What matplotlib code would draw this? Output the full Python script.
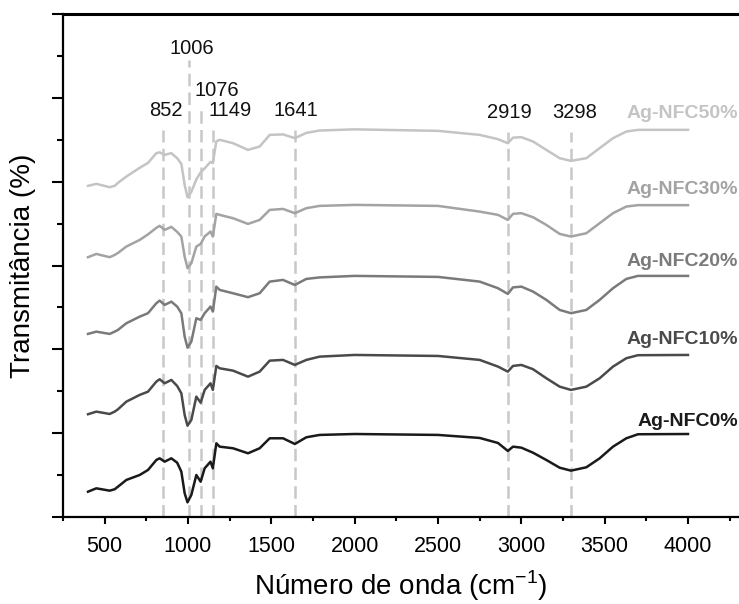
import matplotlib
matplotlib.use("Agg")
import matplotlib.pyplot as plt
from matplotlib.ticker import MultipleLocator, NullFormatter

plt.rcParams['font.family'] = ['Liberation Sans', 'DejaVu Sans']

# FTIR spectra, offset vertically (arbitrary transmittance units)
wavenumber = [400, 450, 530, 560, 580, 630, 710, 760, 810, 830, 860, 900, 935, 960,
              980, 997, 1020, 1050, 1076, 1100, 1135, 1149, 1170, 1190, 1270, 1360,
              1430, 1490, 1570, 1641, 1710, 1790, 2000, 2500, 2750, 2860, 2919, 2950,
              3000, 3070, 3150, 3230, 3298, 3390, 3470, 3550, 3630, 3700, 4000]

nfc0 = [0.302, 0.342, 0.314, 0.331, 0.362, 0.442, 0.501, 0.561, 0.680, 0.700, 0.660,
        0.700, 0.648, 0.541, 0.283, 0.175, 0.263, 0.501, 0.421, 0.581, 0.660, 0.581,
        0.879, 0.839, 0.820, 0.760, 0.820, 0.939, 0.939, 0.871, 0.951, 0.979, 0.990,
        0.979, 0.943, 0.883, 0.788, 0.839, 0.827, 0.767, 0.680, 0.588, 0.553, 0.593,
        0.700, 0.839, 0.939, 0.987, 0.990]

nfc10 = [1.226, 1.257, 1.229, 1.257, 1.285, 1.376, 1.456, 1.495, 1.615, 1.643, 1.595,
         1.635, 1.563, 1.476, 1.217, 1.089, 1.158, 1.436, 1.364, 1.516, 1.595, 1.516,
         1.802, 1.774, 1.746, 1.674, 1.734, 1.865, 1.874, 1.814, 1.874, 1.913, 1.933,
         1.921, 1.874, 1.794, 1.734, 1.802, 1.814, 1.763, 1.655, 1.555, 1.516, 1.555,
         1.655, 1.794, 1.894, 1.930, 1.933]

nfc20 = [2.184, 2.211, 2.184, 2.211, 2.232, 2.311, 2.390, 2.431, 2.550, 2.581, 2.530,
         2.569, 2.510, 2.431, 2.152, 2.020, 2.092, 2.371, 2.351, 2.431, 2.510, 2.450,
         2.748, 2.709, 2.669, 2.622, 2.669, 2.808, 2.828, 2.768, 2.840, 2.858, 2.876,
         2.864, 2.808, 2.729, 2.661, 2.739, 2.748, 2.689, 2.590, 2.470, 2.431, 2.470,
         2.590, 2.729, 2.840, 2.876, 2.876]

nfc30 = [3.099, 3.138, 3.099, 3.126, 3.150, 3.226, 3.305, 3.371, 3.449, 3.473, 3.425,
         3.461, 3.401, 3.345, 3.106, 2.968, 3.027, 3.226, 3.258, 3.347, 3.405, 3.345,
         3.616, 3.604, 3.564, 3.496, 3.544, 3.663, 3.675, 3.624, 3.684, 3.711, 3.723,
         3.711, 3.643, 3.604, 3.544, 3.616, 3.624, 3.576, 3.484, 3.377, 3.345, 3.385,
         3.505, 3.624, 3.703, 3.720, 3.720]

nfc50 = [3.950, 3.974, 3.934, 3.950, 3.986, 4.061, 4.165, 4.224, 4.340, 4.350, 4.320,
         4.340, 4.280, 4.212, 3.962, 3.815, 3.878, 4.027, 4.111, 4.159, 4.236, 4.221,
         4.481, 4.499, 4.459, 4.379, 4.419, 4.558, 4.564, 4.519, 4.582, 4.610, 4.624,
         4.606, 4.558, 4.507, 4.459, 4.525, 4.531, 4.479, 4.379, 4.280, 4.248, 4.280,
         4.400, 4.519, 4.598, 4.618, 4.618]

series_names = ['Ag-NFC0%', 'Ag-NFC10%', 'Ag-NFC20%', 'Ag-NFC30%', 'Ag-NFC50%']
series_values = [nfc0, nfc10, nfc20, nfc30, nfc50]
line_colors = ['#1a1a1a', '#4a4a4a', '#7a7a7a', '#a3a3a3', '#c4c4c4']
label_y = [1.137, 2.112, 3.047, 3.902, 4.817]

# marked bands
peaks = [852, 1006, 1076, 1149, 1641, 2919, 3298]
peak_line_top = [4.618, 5.453, 4.881, 4.618, 4.618, 4.594, 4.594]
peak_text_x = [867, 1022, 1172, 1250, 1650, 2928, 3317]
peak_text_y = [4.845, 5.593, 5.084, 4.845, 4.845, 4.821, 4.821]

fig = plt.figure(figsize=(7.39, 6.04), dpi=100)
ax = fig.add_axes([63 / 739, 1 - 517 / 604, 675 / 739, 503 / 604])

for p, top in zip(peaks, peak_line_top):
    ax.plot([p, p], [0, top], color='#c8c8c8', lw=1.8,
            linestyle=(0, (5, 2.5)), zorder=1)
for p, tx, ty in zip(peaks, peak_text_x, peak_text_y):
    ax.text(tx, ty, str(p), ha='center', va='center', fontsize=14.5, color='#111111')

for name, vals, c, ly in zip(series_names, series_values, line_colors, label_y):
    ax.plot(wavenumber, vals, color=c, lw=1.8, zorder=3)
    ax.text(4298, ly, name, ha='right', va='center', fontsize=14,
            fontweight='bold', color=c, clip_on=False)

ax.set_xlim(250, 4300)
ax.set_ylim(0, 6)

ax.xaxis.set_major_locator(MultipleLocator(500))
ax.xaxis.set_minor_locator(MultipleLocator(250))
ax.yaxis.set_major_locator(MultipleLocator(1))
ax.yaxis.set_minor_locator(MultipleLocator(0.5))
ax.yaxis.set_major_formatter(NullFormatter())
ax.set_xticks([500, 1000, 1500, 2000, 2500, 3000, 3500, 4000])

ax.tick_params(axis='x', which='major', direction='out', length=5, width=1.5,
               labelsize=15.5, pad=9)
ax.tick_params(axis='x', which='minor', direction='out', length=3, width=1.5)
ax.tick_params(axis='y', which='major', direction='out', length=8, width=1.5)
ax.tick_params(axis='y', which='minor', direction='out', length=4, width=1.5)

ax.spines['right'].set_visible(False)
for s in ['left', 'bottom']:
    ax.spines[s].set_linewidth(1.6)
ax.spines['top'].set_linewidth(2.2)

ax.set_xlabel(r'Número de onda (cm$^{\mathregular{-1}}$)', fontsize=20, labelpad=8)
ax.set_ylabel('Transmitância (%)', fontsize=20, labelpad=8)

fig.savefig('out.png', dpi=100)
